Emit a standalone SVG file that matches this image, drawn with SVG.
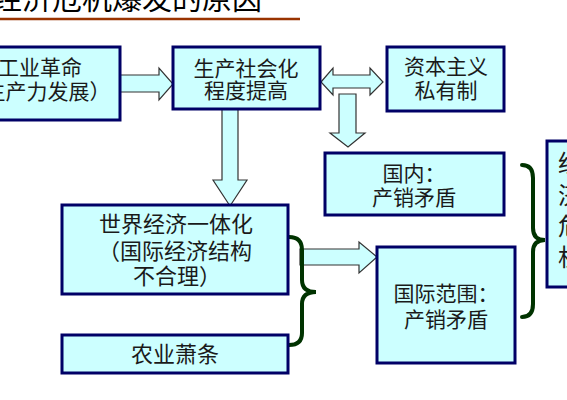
<svg xmlns="http://www.w3.org/2000/svg" width="567" height="400" viewBox="0 0 567 400">
<style>
.box{fill:#ccffff;stroke:#000066;stroke-width:3}
.arr{fill:#ccffff;stroke:#333333;stroke-width:1.2;stroke-linejoin:miter}
.brace{fill:none;stroke:#003300;stroke-width:4;stroke-linecap:round}
text{font-family:"Noto Sans CJK SC","Noto Sans CJK TC",sans-serif;fill:#1a1a1a;text-anchor:middle}
.t{font-size:21px}
.te{font-size:22px}
.v{font-size:24px;text-anchor:start}
</style>
<rect x="0" y="0" width="567" height="400" fill="#ffffff"/>
<g id="title">
<text x="-8" y="9" style="font-size:30px;text-anchor:start;fill:#000">经济危机爆发的原因</text>
<line x1="0" y1="19" x2="300" y2="19" stroke="#993300" stroke-width="2.5"/>
</g>
<g id="connectors">
<polygon class="arr" points="120,75 159,75 159,68 173,84 159,100 159,92 120,92"/>
<polygon class="arr" points="321,82 333,68 333,75 370,75 370,68 383,82 370,95 370,88 333,88 333,95"/>
<polygon class="arr" points="339,94 356,94 356,133 365,133 348,147 330,133 339,133"/>
<polygon class="arr" points="222,109 238,109 238,180 247,180 230,206 213,180 222,180"/>
<polygon class="arr" points="300,249 359,249 359,242 377,257 359,273 359,265 300,265"/>
<path class="brace" d="M289,237 Q302,237 302,250 L302,280 Q302,292 316,292 Q302,292 302,304 L302,333 Q302,345 289,345"/>
<path class="brace" d="M522,165 Q533,165 533,178 L533,228 Q533,240 545,240 Q533,240 533,252 L533,304 Q533,317 522,317"/>
</g>
<g id="node-industrial">
<rect class="box" x="-40" y="47" width="160" height="73"/>
<text class="t" x="40" y="75">工业革命</text>
<text class="t" x="37" y="99">（生产力发展）</text>
</g>
<g id="node-socialization">
<rect class="box" x="173" y="47" width="147" height="62"/>
<text class="t" x="246" y="76">生产社会化</text>
<text class="t" x="246" y="98">程度提高</text>
</g>
<g id="node-private">
<rect class="box" x="387" y="47" width="117" height="64"/>
<text class="t" x="446" y="74">资本主义</text>
<text class="t" x="446" y="98">私有制</text>
</g>
<g id="node-domestic">
<rect class="box" x="325" y="153" width="179" height="62"/>
<text class="t" x="414" y="181">国内：</text>
<text class="t" x="414" y="205">产销矛盾</text>
</g>
<g id="node-world">
<rect class="box" x="62" y="205" width="226" height="89"/>
<text class="te" x="176" y="232">世界经济一体化</text>
<text class="te" x="175" y="259">（国际经济结构</text>
<text class="te" x="177" y="284">不合理）</text>
</g>
<g id="node-agriculture">
<rect class="box" x="62" y="335" width="226" height="38"/>
<text class="te" x="175" y="362">农业萧条</text>
</g>
<g id="node-international">
<rect class="box" x="377" y="247" width="138" height="116"/>
<text class="t" x="446" y="301">国际范围：</text>
<text class="t" x="446" y="327">产销矛盾</text>
</g>
<g id="node-crisis">
<rect class="box" x="547" y="141" width="60" height="146"/>
<text class="v" x="558" y="172">经</text>
<text class="v" x="558" y="204">济</text>
<text class="v" x="558" y="235">危</text>
<text class="v" x="558" y="266">机</text>
</g>
</svg>
